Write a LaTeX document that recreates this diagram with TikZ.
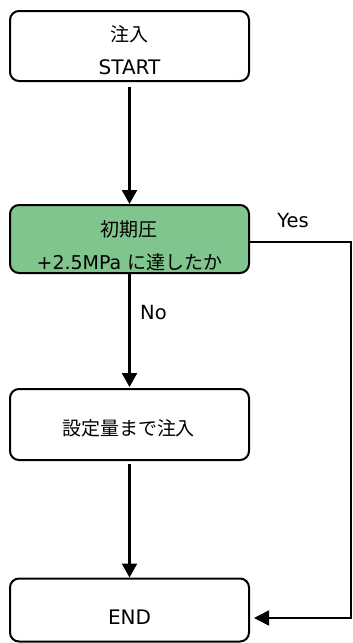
\documentclass[tikz,border=0pt]{standalone}
\usepackage{fontspec}
\setmainfont{DejaVu Sans}
\newfontfamily\jp{Noto Sans CJK JP}
\usetikzlibrary{arrows.meta}
\definecolor{boxgreen}{HTML}{80C48E}
\begin{document}
\begin{tikzpicture}[x=1pt,y=-1pt,
  stepbox/.style={draw=black,line width=2pt,rounded corners=9pt,minimum width=239pt,inner sep=0pt},
  txt/.style={align=center,font=\fontsize{20}{33}\selectfont,inner sep=0pt},
  flow/.style={line width=2.4pt,-{Triangle[width=15pt,length=14pt]}},
  yesline/.style={line width=1.6pt,-{Triangle[width=15pt,length=15pt]}},
  lbl/.style={font=\fontsize{19.5}{20}\selectfont,inner sep=0pt}]
\useasboundingbox (0,0) rectangle (353,643);
\node[stepbox,minimum height=70pt] (start) at (129.5,46) {};
\node[stepbox,minimum height=68pt,fill=boxgreen] (check) at (129.5,239) {};
\node[stepbox,minimum height=71pt] (inject) at (129.5,424.5) {};
\node[stepbox,minimum height=63pt] (end) at (129.5,610) {};
\node[txt] (startT) at (129.5,50) {{\jp\fontsize{19}{33}\selectfont 注入}\\START};
\node[txt] (checkT) at (129.5,246) {{\jp\fontsize{19}{33}\selectfont 初期圧}\\\fontsize{19}{33}\selectfont +2.5MPa {\jp に達したか}};
\node[txt] (injectT) at (128.5,428) {\jp\fontsize{19}{33}\selectfont 設定量まで注入};
\node[txt] (endT) at (129.5,617) {END};
\coordinate (c1) at (351,242);
\coordinate (c2) at (351,618);
\draw[flow] ([yshift=-5pt]start.south) -- (check.north);
\draw[flow] (check.south) -- ([yshift=1pt]inject.north);
\draw[flow] ([yshift=-3pt]inject.south) -- (end.north);
\draw[yesline] (check.east |- c1) -- (c1) -- (c2) -- ([xshift=4pt]end.east |- c2);
\node[lbl,anchor=west] (no) at (140,313) {No};
\node[lbl] (yes) at (293,221) {Yes};
\end{tikzpicture}
\end{document}
